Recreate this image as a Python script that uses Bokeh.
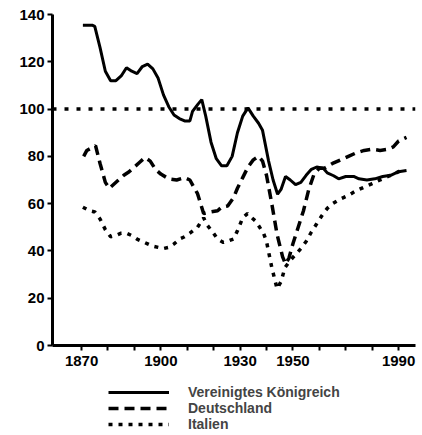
from bokeh.plotting import figure
from bokeh.layouts import column
from bokeh.models import Span, Legend, LegendItem, FixedTicker, Range1d
from bokeh.embed import file_html
from bokeh.resources import INLINE

# ---- data (index values) ----
uk_years = [1870.5, 1874, 1875, 1877, 1879, 1881, 1883, 1885, 1887, 1889, 1891, 1893, 1895, 1897, 1899,
            1901, 1903, 1905, 1907, 1909, 1911, 1912, 1914, 1915.5, 1917, 1919, 1921, 1923, 1925, 1927,
            1929, 1931, 1933, 1935, 1937, 1938.5, 1940.8, 1942.5, 1944.2, 1945.5, 1947.2, 1949, 1951,
            1953, 1955, 1957, 1959, 1961.5, 1963, 1965.4, 1967.3, 1970, 1973, 1975, 1978, 1981, 1984,
            1987, 1990, 1993]
uk_vals = [135.5, 135.5, 135, 126, 116, 112, 112, 114, 117.5, 116, 115, 118, 119, 117, 113,
           106, 101, 97.5, 96, 95, 95, 99, 102, 104, 97, 86, 79, 76, 76, 80,
           90, 97, 100.5, 97, 94, 91, 78, 70, 64, 66, 71.5, 70, 68,
           69, 72, 74.5, 75.5, 75, 73, 71.8, 70.5, 71.5, 71.5, 70.5, 70, 70.5, 71.5,
           72, 73.5, 74]

de_years = [1870.8, 1872, 1875.3, 1877, 1879, 1880.5, 1882, 1884, 1886, 1888, 1890, 1892, 1894, 1896,
            1898, 1900, 1903, 1906, 1909, 1911, 1913.9, 1916.2, 1919, 1921.5, 1923, 1925.3, 1927.5,
            1929, 1931, 1933, 1935, 1937, 1938.5, 1940, 1942, 1944, 1946.1, 1947.2, 1948.5, 1950,
            1952, 1954, 1956, 1958, 1960, 1962, 1965, 1968, 1971, 1974, 1977, 1980, 1983, 1986,
            1988, 1990, 1993]
de_vals = [80, 82.5, 84.5, 77, 69, 66.5, 68, 70, 72, 73.5, 75.5, 77.5, 79.5, 78,
           74.5, 72.5, 70.5, 70, 71, 70, 64.2, 55.8, 56.5, 57, 58.5, 59, 62.5,
           66.5, 71, 75.5, 78.5, 80, 78, 72, 60, 47, 37.5, 34.5, 37, 43,
           50, 57, 66, 72.5, 75, 75, 77, 78.5, 80, 81.5, 82.5, 83, 82.5, 83,
           84, 86.5, 88]

it_years = [1870.5, 1873, 1875, 1877, 1879, 1881, 1883, 1885, 1887, 1889, 1891, 1893, 1895, 1897, 1899,
            1901, 1903, 1905, 1907.5, 1909, 1911, 1913.9, 1916.2, 1917.5, 1920, 1921.5, 1923.7, 1925,
            1927.5, 1929, 1931, 1932.8, 1934, 1936, 1938.9, 1940, 1942, 1944, 1945.5, 1947, 1949,
            1951, 1953, 1955, 1957, 1959, 1961, 1963, 1965, 1968, 1971, 1974, 1977, 1980, 1983,
            1986, 1988, 1991]
it_vals = [58.5, 57, 56.5, 53.5, 49, 46, 46.5, 47.5, 47.5, 46.5, 45, 44, 43, 42, 41.5,
           41, 41.5, 43, 45.3, 46, 47.5, 50, 54, 51, 47.4, 45, 43.6, 44,
           45, 48.5, 54, 55.8, 54.5, 52.5, 47.4, 44, 33, 24, 27, 33, 36,
           38.5, 41, 44, 48, 51.5, 55, 58, 60, 62, 63.5, 65.5, 67, 68.5, 70,
           71.5, 72.5, 74]

reference_level = 100
y_ticks = [0, 20, 40, 60, 80, 100, 120, 140]
x_ticks = [1870, 1880, 1890, 1900, 1910, 1920, 1930, 1940, 1950, 1960, 1970, 1980, 1990]
x_labels = ["1870", "", "", "1900", "", "", "1930", "", "1950", "", "", "", "1990"]
series_names = ["Vereinigtes Königreich", "Deutschland", "Italien"]

FONT = "Liberation Sans"
STYLES = [dict(line_width=3), dict(line_width=3.5, line_dash="10 6"), dict(line_width=3.5, line_dash="4 6")]
NAN = float("nan")

p = figure(width=420, height=375, output_backend="svg", toolbar_location=None,
           x_range=Range1d(1859.0, 1996.4), y_range=Range1d(0, 140),
           min_border_left=52, min_border_right=5, min_border_top=14, min_border_bottom=30)
p.outline_line_color = None
p.xgrid.visible = False
p.ygrid.visible = False
p.background_fill_color = "white"
p.border_fill_color = "white"

for ax in (p.xaxis[0], p.yaxis[0]):
    ax.axis_line_width = 3
    ax.axis_line_color = "black"
    ax.major_tick_line_width = 2
    ax.major_tick_line_color = "black"
    ax.major_tick_out = 5
    ax.major_tick_in = 0
    ax.minor_tick_line_color = None
    ax.major_label_text_font = FONT
    ax.major_label_text_font_style = "bold"
    ax.major_label_text_font_size = "15px"
    ax.major_label_text_color = "black"

p.yaxis.ticker = FixedTicker(ticks=y_ticks)
p.yaxis.major_label_standoff = 3
p.xaxis.ticker = FixedTicker(ticks=x_ticks)
p.xaxis.major_label_overrides = {t: l for t, l in zip(x_ticks, x_labels)}
p.xaxis.major_label_standoff = 5

ref = Span(location=reference_level, dimension="width", line_color="black",
           line_width=3.5, line_dash="4 8")
p.add_layout(ref)

for xs, ys, st in zip([uk_years, de_years, it_years], [uk_vals, de_vals, it_vals], STYLES):
    p.line(xs, ys, line_color="black", **st)

# legend strip below the chart (its frame is aligned with the chart's frame by the column)
q = figure(width=420, height=58, output_backend="svg", toolbar_location=None,
           x_range=Range1d(0, 1), y_range=Range1d(0, 1),
           x_axis_location=None, y_axis_location=None,
           min_border=0, min_border_left=0, min_border_right=0, min_border_top=0, min_border_bottom=0)
q.grid.visible = False
q.outline_line_color = None
q.background_fill_color = "white"
q.border_fill_color = "white"

items = []
for name, st in zip(series_names, STYLES):
    r = q.line(x=[NAN, NAN], y=[NAN, NAN], line_color="black", **st)
    items.append(LegendItem(label=name, renderers=[r]))

legend = Legend(items=items, location=(56, 1), margin=0, padding=0, spacing=0,
                glyph_width=61, glyph_height=14, label_standoff=19,
                label_text_font=FONT, label_text_font_style="bold",
                label_text_font_size="14px", label_height=14,
                border_line_color=None, background_fill_alpha=0)
q.add_layout(legend)

layout = column(p, q, spacing=0)
open("out.html", "w").write(file_html(layout, INLINE))
